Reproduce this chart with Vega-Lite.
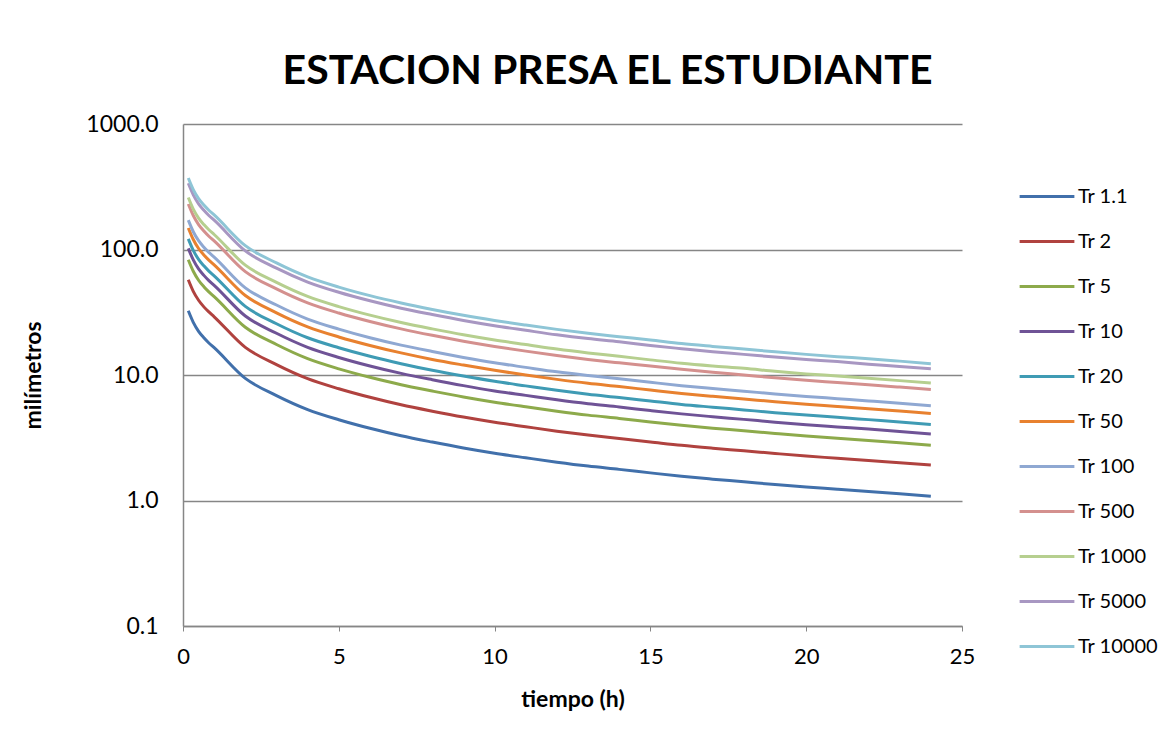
{
  "$schema": "https://vega.github.io/schema/vega-lite/v6.json",
  "width": 779,
  "height": 502,
  "autosize": {"type": "none"},
  "padding": {"left": 183, "top": 124, "right": 213, "bottom": 116},
  "background": "white",
  "title": {
    "text": "ESTACION PRESA EL ESTUDIANTE",
    "font": "Lato",
    "fontSize": 41,
    "fontWeight": "bold",
    "color": "#000000",
    "anchor": "middle",
    "dx": 35,
    "dy": 48,
    "baseline": "alphabetic",
    "offset": 36
  },
  "data": {
    "values": [
      {"t": 0.17, "Tr 1_1": 32.5, "Tr 2": 57.4, "Tr 5": 82.9, "Tr 10": 102.1, "Tr 20": 121.6, "Tr 50": 148.5, "Tr 100": 171.3, "Tr 500": 230.4, "Tr 1000": 259.4, "Tr 5000": 337.0, "Tr 10000": 371.2},
      {"t": 0.33, "Tr 1_1": 26.3, "Tr 2": 46.4, "Tr 5": 67.1, "Tr 10": 82.6, "Tr 20": 98.4, "Tr 50": 120.2, "Tr 100": 138.6, "Tr 500": 186.5, "Tr 1000": 209.9, "Tr 5000": 272.7, "Tr 10000": 300.3},
      {"t": 0.5, "Tr 1_1": 22.3, "Tr 2": 39.4, "Tr 5": 56.9, "Tr 10": 70.0, "Tr 20": 83.4, "Tr 50": 101.9, "Tr 100": 117.5, "Tr 500": 158.1, "Tr 1000": 178.0, "Tr 5000": 231.3, "Tr 10000": 254.7},
      {"t": 0.67, "Tr 1_1": 19.8, "Tr 2": 34.9, "Tr 5": 50.5, "Tr 10": 62.2, "Tr 20": 74.1, "Tr 50": 90.5, "Tr 100": 104.3, "Tr 500": 140.4, "Tr 1000": 158.0, "Tr 5000": 205.3, "Tr 10000": 226.1},
      {"t": 0.83, "Tr 1_1": 18.0, "Tr 2": 31.8, "Tr 5": 45.9, "Tr 10": 56.5, "Tr 20": 67.3, "Tr 50": 82.3, "Tr 100": 94.9, "Tr 500": 127.6, "Tr 1000": 143.6, "Tr 5000": 186.7, "Tr 10000": 205.6},
      {"t": 1, "Tr 1_1": 16.5, "Tr 2": 29.1, "Tr 5": 42.1, "Tr 10": 51.8, "Tr 20": 61.7, "Tr 50": 75.4, "Tr 100": 87.0, "Tr 500": 117.0, "Tr 1000": 131.7, "Tr 5000": 171.1, "Tr 10000": 188.4},
      {"t": 2, "Tr 1_1": 9.4, "Tr 2": 16.6, "Tr 5": 24.0, "Tr 10": 29.5, "Tr 20": 35.2, "Tr 50": 43.0, "Tr 100": 49.5, "Tr 500": 66.6, "Tr 1000": 75.0, "Tr 5000": 97.5, "Tr 10000": 107.3},
      {"t": 3, "Tr 1_1": 6.85, "Tr 2": 12.1, "Tr 5": 17.5, "Tr 10": 21.5, "Tr 20": 25.6, "Tr 50": 31.3, "Tr 100": 36.1, "Tr 500": 48.6, "Tr 1000": 54.7, "Tr 5000": 71.0, "Tr 10000": 78.2},
      {"t": 4, "Tr 1_1": 5.3, "Tr 2": 9.35, "Tr 5": 13.5, "Tr 10": 16.6, "Tr 20": 19.8, "Tr 50": 24.2, "Tr 100": 27.9, "Tr 500": 37.6, "Tr 1000": 42.3, "Tr 5000": 55.0, "Tr 10000": 60.5},
      {"t": 5, "Tr 1_1": 4.4, "Tr 2": 7.77, "Tr 5": 11.2, "Tr 10": 13.8, "Tr 20": 16.5, "Tr 50": 20.1, "Tr 100": 23.2, "Tr 500": 31.2, "Tr 1000": 35.1, "Tr 5000": 45.6, "Tr 10000": 50.2},
      {"t": 6, "Tr 1_1": 3.76, "Tr 2": 6.64, "Tr 5": 9.59, "Tr 10": 11.8, "Tr 20": 14.1, "Tr 50": 17.2, "Tr 100": 19.8, "Tr 500": 26.7, "Tr 1000": 30.0, "Tr 5000": 39.0, "Tr 10000": 42.9},
      {"t": 7, "Tr 1_1": 3.28, "Tr 2": 5.79, "Tr 5": 8.36, "Tr 10": 10.3, "Tr 20": 12.3, "Tr 50": 15.0, "Tr 100": 17.3, "Tr 500": 23.3, "Tr 1000": 26.2, "Tr 5000": 34.0, "Tr 10000": 37.5},
      {"t": 8, "Tr 1_1": 2.92, "Tr 2": 5.15, "Tr 5": 7.45, "Tr 10": 9.17, "Tr 20": 10.9, "Tr 50": 13.3, "Tr 100": 15.4, "Tr 500": 20.7, "Tr 1000": 23.3, "Tr 5000": 30.3, "Tr 10000": 33.3},
      {"t": 9, "Tr 1_1": 2.62, "Tr 2": 4.62, "Tr 5": 6.68, "Tr 10": 8.23, "Tr 20": 9.80, "Tr 50": 12.0, "Tr 100": 13.8, "Tr 500": 18.6, "Tr 1000": 20.9, "Tr 5000": 27.2, "Tr 10000": 29.9},
      {"t": 10, "Tr 1_1": 2.38, "Tr 2": 4.20, "Tr 5": 6.07, "Tr 10": 7.47, "Tr 20": 8.90, "Tr 50": 10.9, "Tr 100": 12.5, "Tr 500": 16.9, "Tr 1000": 19.0, "Tr 5000": 24.7, "Tr 10000": 27.2},
      {"t": 11, "Tr 1_1": 2.19, "Tr 2": 3.87, "Tr 5": 5.58, "Tr 10": 6.88, "Tr 20": 8.19, "Tr 50": 10.0, "Tr 100": 11.5, "Tr 500": 15.5, "Tr 1000": 17.5, "Tr 5000": 22.7, "Tr 10000": 25.0},
      {"t": 12, "Tr 1_1": 2.02, "Tr 2": 3.57, "Tr 5": 5.15, "Tr 10": 6.34, "Tr 20": 7.55, "Tr 50": 9.23, "Tr 100": 10.6, "Tr 500": 14.3, "Tr 1000": 16.1, "Tr 5000": 20.9, "Tr 10000": 23.1},
      {"t": 13, "Tr 1_1": 1.88, "Tr 2": 3.32, "Tr 5": 4.79, "Tr 10": 5.90, "Tr 20": 7.03, "Tr 50": 8.59, "Tr 100": 9.91, "Tr 500": 13.3, "Tr 1000": 15.0, "Tr 5000": 19.5, "Tr 10000": 21.5},
      {"t": 14, "Tr 1_1": 1.77, "Tr 2": 3.12, "Tr 5": 4.51, "Tr 10": 5.56, "Tr 20": 6.62, "Tr 50": 8.09, "Tr 100": 9.33, "Tr 500": 12.5, "Tr 1000": 14.1, "Tr 5000": 18.4, "Tr 10000": 20.2},
      {"t": 15, "Tr 1_1": 1.66, "Tr 2": 2.93, "Tr 5": 4.23, "Tr 10": 5.21, "Tr 20": 6.21, "Tr 50": 7.59, "Tr 100": 8.75, "Tr 500": 11.8, "Tr 1000": 13.2, "Tr 5000": 17.2, "Tr 10000": 19.0},
      {"t": 16, "Tr 1_1": 1.56, "Tr 2": 2.75, "Tr 5": 3.98, "Tr 10": 4.90, "Tr 20": 5.83, "Tr 50": 7.13, "Tr 100": 8.22, "Tr 500": 11.1, "Tr 1000": 12.4, "Tr 5000": 16.2, "Tr 10000": 17.8},
      {"t": 17, "Tr 1_1": 1.48, "Tr 2": 2.61, "Tr 5": 3.77, "Tr 10": 4.65, "Tr 20": 5.54, "Tr 50": 6.76, "Tr 100": 7.80, "Tr 500": 10.5, "Tr 1000": 11.8, "Tr 5000": 15.3, "Tr 10000": 16.9},
      {"t": 18, "Tr 1_1": 1.41, "Tr 2": 2.49, "Tr 5": 3.60, "Tr 10": 4.43, "Tr 20": 5.27, "Tr 50": 6.44, "Tr 100": 7.43, "Tr 500": 10.0, "Tr 1000": 11.3, "Tr 5000": 14.6, "Tr 10000": 16.1},
      {"t": 19, "Tr 1_1": 1.34, "Tr 2": 2.37, "Tr 5": 3.42, "Tr 10": 4.21, "Tr 20": 5.01, "Tr 50": 6.12, "Tr 100": 7.06, "Tr 500": 9.50, "Tr 1000": 10.7, "Tr 5000": 13.9, "Tr 10000": 15.3},
      {"t": 20, "Tr 1_1": 1.28, "Tr 2": 2.26, "Tr 5": 3.26, "Tr 10": 4.02, "Tr 20": 4.79, "Tr 50": 5.85, "Tr 100": 6.75, "Tr 500": 9.08, "Tr 1000": 10.2, "Tr 5000": 13.3, "Tr 10000": 14.6},
      {"t": 21, "Tr 1_1": 1.23, "Tr 2": 2.17, "Tr 5": 3.14, "Tr 10": 3.86, "Tr 20": 4.60, "Tr 50": 5.62, "Tr 100": 6.48, "Tr 500": 8.72, "Tr 1000": 9.82, "Tr 5000": 12.8, "Tr 10000": 14.0},
      {"t": 22, "Tr 1_1": 1.18, "Tr 2": 2.08, "Tr 5": 3.01, "Tr 10": 3.71, "Tr 20": 4.41, "Tr 50": 5.39, "Tr 100": 6.22, "Tr 500": 8.37, "Tr 1000": 9.42, "Tr 5000": 12.2, "Tr 10000": 13.5},
      {"t": 23, "Tr 1_1": 1.13, "Tr 2": 2.00, "Tr 5": 2.88, "Tr 10": 3.55, "Tr 20": 4.23, "Tr 50": 5.16, "Tr 100": 5.96, "Tr 500": 8.01, "Tr 1000": 9.02, "Tr 5000": 11.7, "Tr 10000": 12.9},
      {"t": 24, "Tr 1_1": 1.08, "Tr 2": 1.92, "Tr 5": 2.75, "Tr 10": 3.39, "Tr 20": 4.04, "Tr 50": 4.94, "Tr 100": 5.69, "Tr 500": 7.66, "Tr 1000": 8.62, "Tr 5000": 11.2, "Tr 10000": 12.3}
    ]
  },
  "transform": [
    {"fold": ["Tr 1_1", "Tr 2", "Tr 5", "Tr 10", "Tr 20", "Tr 50", "Tr 100", "Tr 500", "Tr 1000", "Tr 5000", "Tr 10000"], "as": ["serie", "mm"]}
  ],
  "mark": {"type": "line", "strokeWidth": 3, "interpolate": "monotone", "clip": true},
  "encoding": {
    "x": {
      "field": "t",
      "type": "quantitative",
      "scale": {"domain": [0, 25], "nice": false, "zero": true},
      "axis": {
        "title": "tiempo (h)",
        "values": [0, 5, 10, 15, 20, 25],
        "grid": false,
        "domainColor": "#868686",
        "domainWidth": 1.5,
        "ticks": true,
        "tickColor": "#868686",
        "tickSize": 5,
        "labelFlush": false,
        "labelOverlap": false,
        "labelPadding": 15,
        "labelFont": "Lato",
        "labelFontSize": 22,
        "labelColor": "#000000",
        "titleFont": "Lato",
        "titleFontSize": 23,
        "titleFontWeight": "bold",
        "titleColor": "#000000",
        "titlePadding": 21
      }
    },
    "y": {
      "field": "mm",
      "type": "quantitative",
      "scale": {"type": "log", "domain": [0.1, 1000], "nice": false},
      "axis": {
        "title": "milímetros",
        "values": [0.1, 1, 10, 100, 1000],
        "format": ".1f",
        "grid": true,
        "gridColor": "#868686",
        "gridWidth": 1.5,
        "domainColor": "#868686",
        "domainWidth": 1.5,
        "ticks": false,
        "labelFlush": false,
        "labelOverlap": false,
        "labelPadding": 25,
        "labelFont": "Lato",
        "labelFontSize": 23,
        "labelColor": "#000000",
        "titleFont": "Lato",
        "titleFontSize": 23,
        "titleFontWeight": "bold",
        "titleColor": "#000000",
        "titlePadding": 40
      }
    },
    "color": {
      "field": "serie",
      "type": "nominal",
      "scale": {
        "domain": ["Tr 1_1", "Tr 2", "Tr 5", "Tr 10", "Tr 20", "Tr 50", "Tr 100", "Tr 500", "Tr 1000", "Tr 5000", "Tr 10000"],
        "range": ["#4170AB", "#B0423F", "#8DAA4B", "#6F5396", "#3F9BB4", "#E8812F", "#8FA8D2", "#D4908E", "#B6CF8F", "#A897C2", "#8EC5D6"]
      },
      "legend": {
        "title": null,
        "orient": "none",
        "legendX": 835,
        "legendY": 60,
        "labelExpr": "replace(datum.label, '_', '.')",
        "symbolType": "stroke",
        "symbolSize": 3000,
        "symbolStrokeWidth": 3,
        "labelFont": "Lato",
        "labelFontSize": 20,
        "labelColor": "#000000",
        "labelOffset": 2,
        "clipHeight": 25,
        "rowPadding": 20
      }
    }
  },
  "config": {
    "view": {"stroke": null}
  }
}
